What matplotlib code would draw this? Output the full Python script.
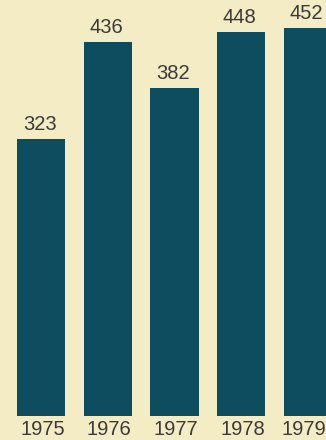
import matplotlib
matplotlib.use('Agg')
import matplotlib.pyplot as plt

years = ['1975', '1976', '1977', '1978', '1979']
values = [323, 436, 382, 448, 452]

bg = '#f4ecc4'
bar_color = '#0e4c60'
text_color = '#3a3a3a'

fig = plt.figure(figsize=(3.26, 4.4), dpi=100, facecolor=bg)
ax = fig.add_axes([0, 24 / 440, 1, 416 / 440])
ax.set_facecolor(bg)

pos = list(range(len(years)))
ax.bar(pos, values, width=0.72, color=bar_color)

for x, v in zip(pos, values):
    ax.annotate(str(v), (x, v), xytext=(-1, 3.5), textcoords='offset points',
                ha='center', va='bottom', fontsize=14.5, color=text_color,
                family='Liberation Sans')

# the last year sits against the right edge, nudge it inward
for x, y in zip(pos, years):
    dx = -3 if x == pos[-1] else 1
    ax.annotate(y, (x, 0), xytext=(dx, -3), textcoords='offset points',
                ha='center', va='top', fontsize=14.5, color=text_color,
                family='Liberation Sans', annotation_clip=False)

ax.set_xlim(-41 / 66.75, (326 - 41) / 66.75)
ax.set_ylim(0, 416 / 0.858)
ax.axis('off')

fig.savefig('out.png', dpi=100, facecolor=bg)
